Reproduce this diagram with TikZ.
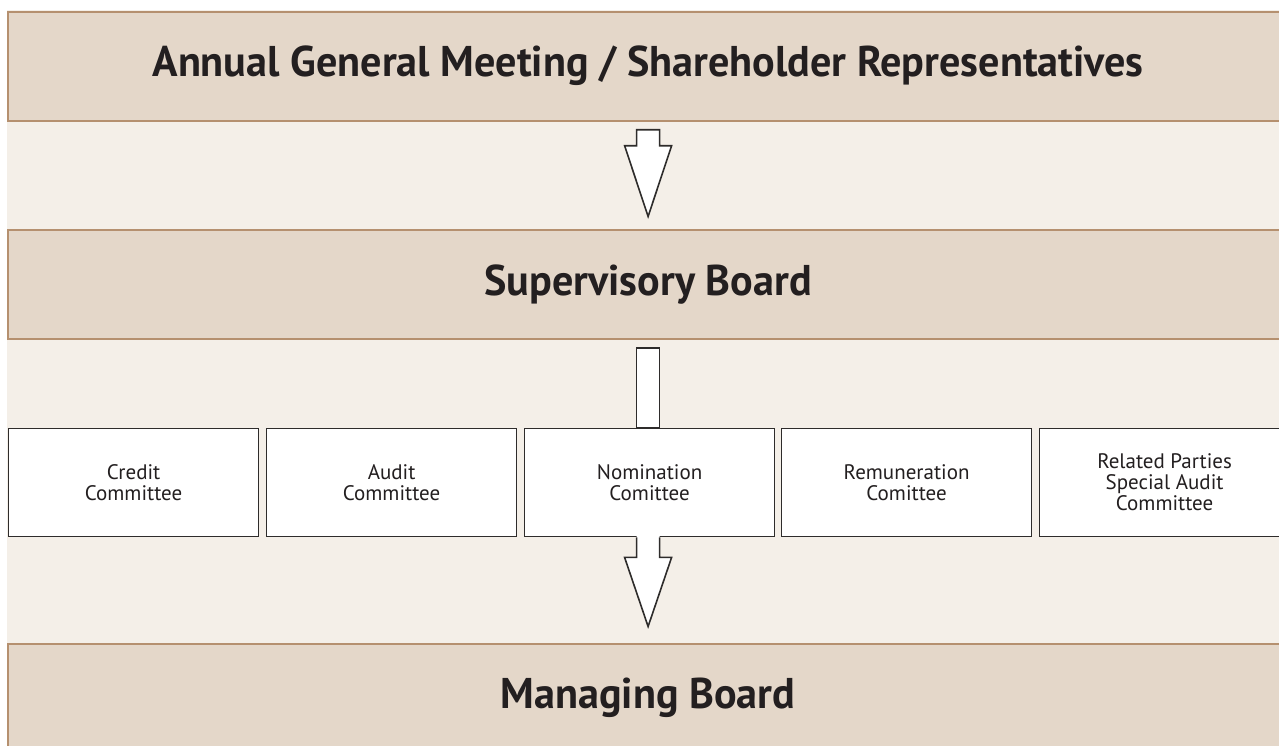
\documentclass[tikz,border=0pt]{standalone}
\usepackage{fontspec}
\setmainfont{PT Sans}[BoldFeatures={FakeStretch=0.98}]
\usetikzlibrary{calc}
\definecolor{boardfill}{HTML}{E4D7C9}
\definecolor{boardline}{HTML}{B5906F}
\definecolor{bg}{HTML}{F4EFE8}
\definecolor{boxline}{HTML}{2E2C2B}
\definecolor{ink}{HTML}{231F20}
\begin{document}
\begin{tikzpicture}[x=1pt,y=-1pt,
  board/.style={fill=boardfill, draw=boardline, line width=2.2pt, inner sep=0pt,
    minimum width=1280pt, minimum height=109pt, anchor=north west,
    font=\fontsize{43}{50}\selectfont\bfseries, text=ink},
  cbox/.style={fill=white, draw=boxline, line width=1.6pt, minimum width=250pt,
    minimum height=108pt, inner sep=0pt, align=center, anchor=north west,
    font=\fontsize{21}{21}\selectfont, text=ink},
  arrowbody/.style={fill=white, draw=boxline, line width=1.6pt, line join=miter}]
\useasboundingbox (0,0) rectangle (1279,745);
\clip (0,0) rectangle (1279,745);
\fill[white] (0,0) rectangle (1279,745);
\fill[bg] (7,10) rectangle (1279,745);

\node[board] (agm) at (7,10.5) {Annual General Meeting / Shareholder Representatives};
\node[board] (sb) at (7,228.5) {Supervisory Board};
\node[board] (mb) at (7,642.5) {Managing Board};

% arrow AGM -> Supervisory Board
\draw[arrowbody] ([xshift=-11.5pt,yshift=-8pt]agm.south) -- ([xshift=11.5pt,yshift=-8pt]agm.south)
  -- ([xshift=11.5pt,yshift=-24pt]agm.south) -- ([xshift=23.5pt,yshift=-24pt]agm.south)
  -- ([yshift=12pt]sb.south |- sb.north) -- ([xshift=-23.5pt,yshift=-24pt]agm.south)
  -- ([xshift=-11.5pt,yshift=-24pt]agm.south) -- cycle;

\node[cbox] (credit) at (7.8,427.8) {Credit\\Committee};
\node[cbox] (audit) at (265.8,427.8) {Audit\\Committee};
\node[cbox] (nom) at (523.8,427.8) {Nomination\\Comittee};
\node[cbox] (rem) at (780.8,427.8) {Remuneration\\Comittee};
\node[cbox] (rel) at (1038.8,427.8) {Related Parties\\Special Audit\\Committee};

% stem Supervisory Board -> committees
\draw[arrowbody] ([xshift=-11.5pt,yshift=-8pt]sb.south) rectangle ([xshift=11.5pt]sb.south |- nom.north);

% arrow committees -> Managing Board
\fill[white] ([xshift=-11.5pt,yshift=2pt]sb.south |- nom.south) -- ([xshift=11.5pt,yshift=2pt]sb.south |- nom.south)
  -- ([xshift=11.5pt,yshift=-20pt]sb.south |- nom.south) -- ([xshift=23.5pt,yshift=-20pt]sb.south |- nom.south)
  -- ([yshift=16pt]mb.north) -- ([xshift=-23.5pt,yshift=-20pt]sb.south |- nom.south)
  -- ([xshift=-11.5pt,yshift=-20pt]sb.south |- nom.south) -- cycle;
\draw[arrowbody, fill=none] ([xshift=-11.5pt]sb.south |- nom.south)
  -- ([xshift=-11.5pt,yshift=-20pt]sb.south |- nom.south) -- ([xshift=-23.5pt,yshift=-20pt]sb.south |- nom.south)
  -- ([yshift=16pt]mb.north) -- ([xshift=23.5pt,yshift=-20pt]sb.south |- nom.south)
  -- ([xshift=11.5pt,yshift=-20pt]sb.south |- nom.south) -- ([xshift=11.5pt]sb.south |- nom.south);
\end{tikzpicture}
\end{document}
